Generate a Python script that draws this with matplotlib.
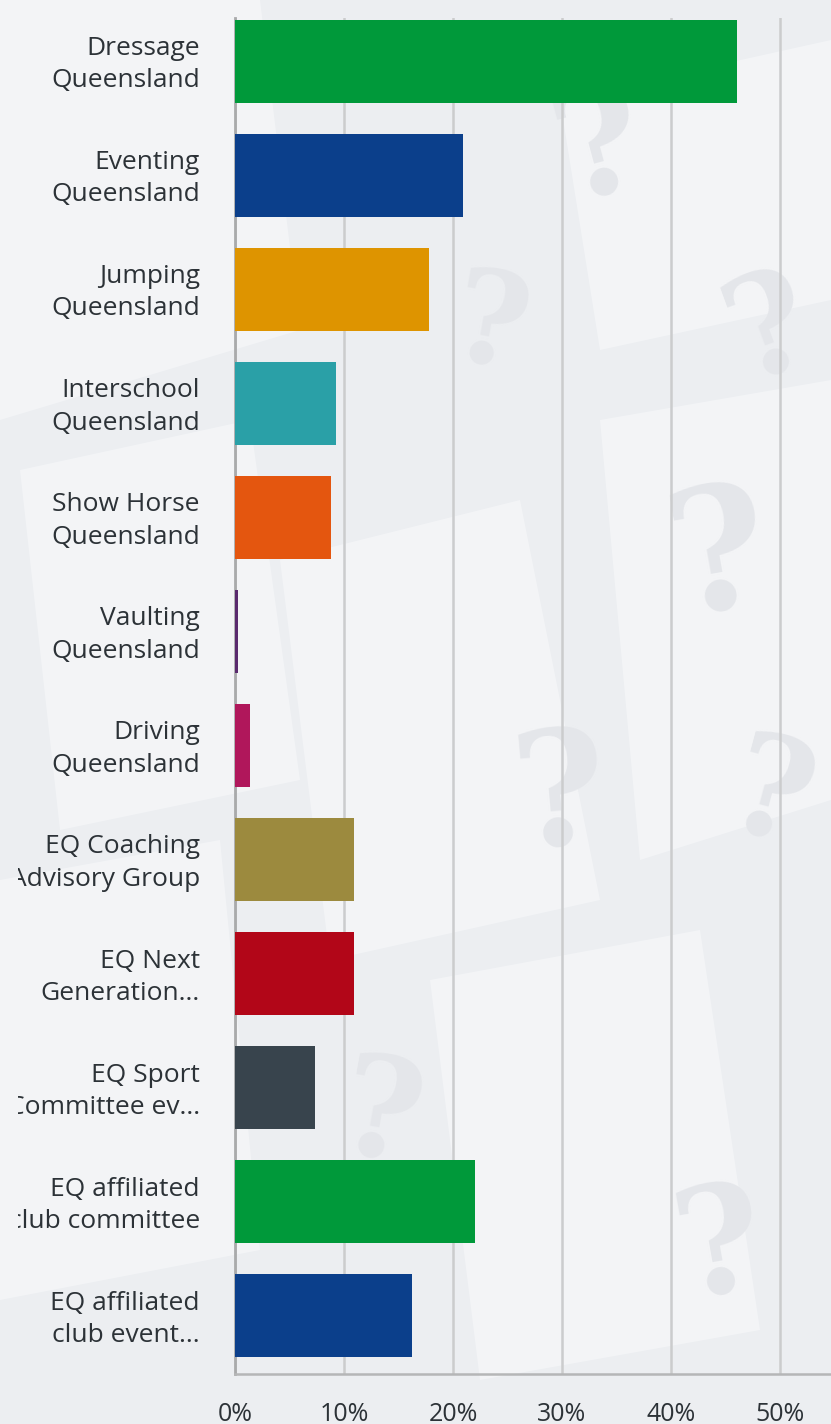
import matplotlib
matplotlib.use("Agg")
import matplotlib.pyplot as plt
from matplotlib.transforms import Bbox, TransformedBbox, blended_transform_factory
from matplotlib.patches import Polygon

categories = [
    "Dressage\nQueensland",
    "Eventing\nQueensland",
    "Jumping\nQueensland",
    "Interschool\nQueensland",
    "Show Horse\nQueensland",
    "Vaulting\nQueensland",
    "Driving\nQueensland",
    "EQ Coaching\nAdvisory Group",
    "EQ Next\nGeneration...",
    "EQ Sport\nCommittee ev...",
    "EQ affiliated\nclub committee",
    "EQ affiliated\nclub event...",
]
values = [46.1, 20.9, 17.8, 9.3, 8.8, 0.3, 1.4, 10.9, 10.9, 7.3, 22.0, 16.2]
colors = ["#00993a", "#0b3f8b", "#de9400", "#2aa0a7", "#e4560f", "#5a2a6e",
          "#b0175b", "#9c8a3e", "#b20618", "#38444d", "#00993a", "#0b3f8b"]
xticks = [0, 10, 20, 30, 40, 50]
xticklabels = ["0%", "10%", "20%", "30%", "40%", "50%"]

W, H = 831, 1424
fig = plt.figure(figsize=(W / 100, H / 100), dpi=100)
fig.patch.set_facecolor("#eceef1")

# faint decorative background (paper shapes and question marks)
bg = fig.add_axes([0, 0, 1, 1], zorder=0)
bg.set_xlim(0, W)
bg.set_ylim(H, 0)
bg.axis("off")
papers = [
    [(0, 0), (260, 0), (300, 330), (0, 420)],
    [(20, 470), (250, 420), (300, 780), (60, 830)],
    [(280, 560), (520, 500), (600, 900), (330, 960)],
    [(600, 420), (831, 380), (831, 800), (640, 860)],
    [(0, 880), (220, 840), (260, 1250), (0, 1300)],
    [(430, 980), (700, 930), (760, 1330), (480, 1380)],
    [(560, 100), (831, 40), (831, 300), (600, 350)],
]
for p in papers:
    bg.add_patch(Polygon(p, closed=True, facecolor="#f6f7f9", edgecolor="none", alpha=0.7))
qmarks = [(600, 150, 150, 15), (490, 330, 130, -10), (720, 560, 170, 10),
          (560, 800, 160, 5), (770, 330, 140, 20),
          (380, 1120, 140, -10), (720, 1250, 150, 10), (770, 800, 140, -15)]
for x, y, s, r in qmarks:
    bg.text(x, y, "?", fontsize=s * 0.72, color="#e4e6ea", ha="center", va="center",
            rotation=r, family="DejaVu Serif", fontweight="bold")

ax = fig.add_axes([235 / W, (H - 1374) / H, 1 - 235 / W, (1374 - 18) / H], zorder=1)
ax.patch.set_alpha(0)

n = len(categories)
ypos = list(range(n))
ax.barh(ypos, values, height=0.73, color=colors, zorder=3)
ax.set_xlim(0, (W - 235) / 10.9)
ax.set_ylim(n - 0.49, -0.38)

ax.set_xticks(xticks)
ax.set_xticklabels(xticklabels, fontsize=18, color="#2c3237", family="Open Sans")
ax.tick_params(axis="x", length=0, pad=20)
ax.set_yticks([])
ax.grid(axis="x", color="#cbcccd", linewidth=1.8, zorder=1)
for s in ["top", "right"]:
    ax.spines[s].set_visible(False)
ax.spines["left"].set_color("#a9aaab")
ax.spines["left"].set_linewidth(2)
ax.spines["bottom"].set_color("#b5b6b7")
ax.spines["bottom"].set_linewidth(1.8)

clip = TransformedBbox(Bbox.from_extents(18 / W, 0, 1, 1), fig.transFigure)
trans = blended_transform_factory(ax.transAxes, ax.transData)
for y, lab in zip(ypos, categories):
    t = ax.text(-35 / (W - 235), y + 0.03, lab, transform=trans, ha="right", va="center",
                fontsize=19, color="#2c3237", family="Open Sans", linespacing=1.38,
                multialignment="right", clip_on=True)
    t.set_clip_box(clip)

fig.savefig("out.png", dpi=100, facecolor=fig.get_facecolor())
